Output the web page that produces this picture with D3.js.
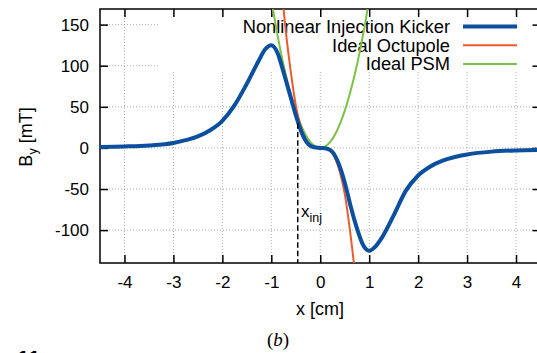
<!DOCTYPE html>
<html>
<head>
<meta charset="utf-8">
<script src="https://cdn.jsdelivr.net/npm/d3@7"></script>
<style>
  html, body { margin: 0; padding: 0; background: #fff; }
  svg { display: block; }
  text { font-family: "Liberation Sans", Arial, Helvetica, sans-serif; fill: #000; }
</style>
</head>
<body>
<svg id="chart" width="537" height="353"></svg>
<script>
// ---- data ----
const xTicks = [-4, -3, -2, -1, 0, 1, 2, 3, 4];
const yTicks = [150, 100, 50, 0, -50, -100];
const seriesNames = ["Nonlinear Injection Kicker", "Ideal Octupole", "Ideal PSM"];

const kickerX = [-4.5,-4,-3.5,-3,-2.75,-2.5,-2.25,-2,-1.75,-1.5,-1.25,-1.125,-1,-0.875,-0.75,-0.625,-0.5,-0.375,-0.25,-0.125,0,0.125,0.25,0.375,0.5,0.625,0.75,0.875,1,1.125,1.25,1.5,1.75,2,2.25,2.5,2.75,3,3.5,4,4.5];
const kickerB = [1.2,1.8,3,6,9.4,14,21.5,33,52,78,107,120,125,116,92,66,40,18,5,0.8,0,-0.8,-5,-19,-42,-72,-98,-118,-125,-120,-110,-82,-52,-33.5,-22.5,-15.5,-11,-8,-4.5,-3,-2.4];

const octX = [-0.8,-0.7,-0.6,-0.5,-0.4,-0.3,-0.2,-0.1,0,0.1,0.2,0.3,0.4,0.5,0.6,0.7,0.75];
const octB = [200,140,92,52,26,11,3,0.4,0,-0.4,-3.5,-12,-29,-56,-97,-148,-180];

const psmX = [-1.05,-1,-0.9,-0.8,-0.7,-0.6,-0.5,-0.4,-0.3,-0.2,-0.1,0,0.1,0.2,0.3,0.4,0.5,0.6,0.7,0.8,0.9,1,1.05];
const psmB = [198,180,146,115,88,65,45,29,16,7,1.8,0,1.8,7,16,29,45,65,88,115,146,180,198];

const xInj = -0.46;
const xInjB = 30;

// ---- layout ----
const L = 100, R = 540.5, T = 9, B = 263;
const colors = ["#0b4f9e", "#ee5a2f", "#7cc146"];
const widths = [4, 2, 2];

const svg = d3.select("#chart");
const x = d3.scaleLinear().domain([-4.5, 4.5]).range([L, R]);
const y = d3.scaleLinear().domain([-140, 169]).range([B, T]);

svg.append("defs").append("clipPath").attr("id", "clip")
  .append("rect").attr("x", L).attr("y", T).attr("width", R - L).attr("height", B - T);

// grid
const grid = svg.append("g").attr("stroke", "#999").attr("stroke-width", 0.8).attr("stroke-dasharray", "1,2");
grid.selectAll("line.v").data(xTicks).join("line").attr("class", "v")
  .attr("x1", d => x(d)).attr("x2", d => x(d)).attr("y1", T).attr("y2", B);
grid.selectAll("line.h").data(yTicks).join("line").attr("class", "h")
  .attr("x1", L).attr("x2", R).attr("y1", d => y(d)).attr("y2", d => y(d));

// opaque legend box
svg.append("rect").attr("x", 159).attr("y", T).attr("width", R - 159).attr("height", 72 - T).attr("fill", "#fff");

// axes
const fs = 17;
const fmt = d => String(d);
const ax = svg.append("g");
ax.append("g").attr("transform", `translate(${L},0)`)
  .call(d3.axisLeft(y).tickValues(yTicks).tickSize(-8).tickPadding(11).tickFormat(fmt));
ax.append("g").attr("transform", `translate(0,${B})`)
  .call(d3.axisBottom(x).tickValues(xTicks).tickSize(-8).tickPadding(13).tickFormat(fmt));
ax.append("g").attr("transform", `translate(0,${T})`)
  .call(d3.axisTop(x).tickValues(xTicks).tickSize(-8).tickFormat(""));
ax.append("g").attr("transform", `translate(${R},0)`)
  .call(d3.axisRight(y).tickValues(yTicks).tickSize(-8).tickFormat(""));
ax.selectAll(".domain").remove();
ax.selectAll(".tick line").attr("stroke", "#000").attr("stroke-width", 1.5);
ax.selectAll(".tick text").attr("font-size", fs).attr("font-family", '"Liberation Sans", Arial, sans-serif');
svg.append("rect").attr("x", L).attr("y", T).attr("width", R - L).attr("height", B - T)
  .attr("fill", "none").attr("stroke", "#000").attr("stroke-width", 1.5);

// legend
const lg = svg.append("g");
seriesNames.forEach((name, i) => {
  const cy = 26.5 + i * 18.7;
  lg.append("text").attr("x", 450).attr("y", cy + 6.4).attr("text-anchor", "end")
    .attr("font-size", 18.3).text(name);
  lg.append("line").attr("x1", 463).attr("x2", 517).attr("y1", cy).attr("y2", cy)
    .attr("stroke", colors[i]).attr("stroke-width", widths[i]);
});

// curves
const curves = svg.append("g").attr("clip-path", "url(#clip)");
const line = d3.line().x(d => x(d[0])).y(d => y(d[1])).curve(d3.curveMonotoneX);
const series = [
  d3.zip(kickerX, kickerB),
  d3.zip(octX, octB),
  d3.zip(psmX, psmB)
];
[2, 1, 0].forEach(i => {
  curves.append("path").attr("d", line(series[i])).attr("fill", "none")
    .attr("stroke", colors[i]).attr("stroke-width", widths[i]).attr("stroke-linejoin", "round");
});

// x_inj marker
svg.append("line").attr("x1", x(xInj)).attr("x2", x(xInj)).attr("y1", y(xInjB)).attr("y2", B)
  .attr("stroke", "#000").attr("stroke-width", 1.5).attr("stroke-dasharray", "5.5,3");
const lab = svg.append("text").attr("x", 301).attr("y", 216.5).attr("font-size", 17);
lab.append("tspan").text("x");
lab.append("tspan").attr("font-size", 12.5).attr("dy", 5).text("inj");

// axis titles
svg.append("text").attr("x", 320).attr("y", 315).attr("text-anchor", "middle").attr("font-size", 18).text("x [cm]");
const yl = svg.append("text").attr("transform", "translate(31.5,137) rotate(-90)").attr("text-anchor", "middle").attr("font-size", 18);
yl.append("tspan").text("B");
yl.append("tspan").attr("font-size", 12.5).attr("dy", 5).text("y");
yl.append("tspan").attr("dy", -5).text(" [mT]");

// caption
const cap = svg.append("text").attr("x", 278).attr("y", 346).attr("text-anchor", "middle")
  .attr("font-size", 19).style("font-family", '"Liberation Serif", "Times New Roman", serif');
cap.append("tspan").text("(");
cap.append("tspan").attr("font-style", "italic").text("b");
cap.append("tspan").text(")");

// page number at bottom-left, cut off by the page edge as in the reference
svg.append("text").attr("x", 17).attr("y", 366).attr("font-size", 22).attr("font-weight", "bold").text("11");
</script>
</body>
</html>
